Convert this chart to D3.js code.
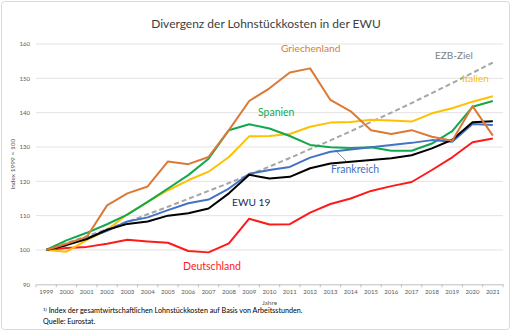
<!DOCTYPE html>
<html>
<head>
<meta charset="utf-8">
<script src="https://cdn.jsdelivr.net/npm/d3@7"></script>
<style>
html,body{margin:0;padding:0;background:#fff;}
svg{display:block;font-family:Lato, "Open Sans", sans-serif;}
</style>
</head>
<body>
<svg id="chart" width="512" height="332"></svg>
<script>
const years = ["1999","2000","2001","2002","2003","2004","2005","2006","2007","2008","2009","2010","2011","2012","2013","2014","2015","2016","2017","2018","2019","2020","2021"];
const yTicks = [90,100,110,120,130,140,150,160];

const ezbZiel      = [100,102,104,106.1,108.2,110.4,112.6,114.9,117.2,119.5,121.9,124.3,126.8,129.4,131.9,134.6,137.3,140,142.8,145.7,148.6,151.6,154.6];
const deutschland  = [100,100.6,100.9,101.8,103.0,102.5,102.1,99.7,99.3,101.9,109.1,107.4,107.5,110.9,113.4,115.0,117.2,118.6,119.8,123.3,127.0,131.4,132.5];
const italien      = [100,99.5,102.9,105.8,110.4,114.0,117.4,120.3,122.8,127.1,133.1,133.2,133.8,135.9,137.1,137.3,137.9,137.7,137.4,139.8,141.3,143.2,144.8];
const spanien      = [100,102.8,105.0,107.5,110.3,114.0,117.9,121.8,126.6,134.9,136.6,135.4,133.2,130.6,129.9,129.7,129.9,128.9,128.9,131.0,134.6,141.7,143.4];
const frankreich   = [100,101.6,103.4,105.6,108.3,109.5,111.6,113.6,114.7,117.9,122.2,123.3,124.2,126.9,128.6,129.3,129.9,130.6,131.2,132.0,131.5,136.7,136.4];
const ewu19        = [100,101.4,103.2,105.9,107.6,108.3,110.0,110.7,112.1,116.5,121.9,120.8,121.3,123.8,125.2,125.7,126.2,126.7,127.6,129.6,132.1,137.2,137.5];
const griechenland = [100,101.8,103.8,113.0,116.5,118.5,125.8,125.0,127.1,134.9,143.4,147.1,151.7,152.9,143.7,140.4,134.9,133.8,134.9,133.0,131.8,141.9,133.3];

const seriesNames  = ["EZB-Ziel","Deutschland","Italien","Spanien","Frankreich","EWU 19","Griechenland"];
const seriesValues = [ezbZiel, deutschland, italien, spanien, frankreich, ewu19, griechenland];
const seriesColors = ["#A6A6A6","#FF1A1A","#FFC000","#12A84E","#4472C4","#000000","#DB7A36"];

const svg = d3.select("#chart");

// outer border
svg.append("rect").attr("x",1.5).attr("y",1.5).attr("width",508).attr("height",328)
  .attr("rx",3).attr("fill","#fff").attr("stroke","#D9D9D9").attr("stroke-width",1);

const pLeft = 36, pRight = 503, pTop = 44, pBottom = 284.3;
const xBand = d3.scaleBand().domain(years).range([pLeft,pRight]).padding(0);
const x = d => xBand(d) + xBand.bandwidth()/2;
const y = d3.scaleLinear().domain([90,160]).range([pBottom,pTop]);

// title
svg.append("text").attr("x",266).attr("y",28).attr("text-anchor","middle")
  .attr("font-size",12).attr("fill","#404040").text("Divergenz der Lohnstückkosten in der EWU");

// gridlines
svg.append("g").selectAll("line").data(yTicks.filter(t=>t>90)).join("line")
  .attr("x1",pLeft).attr("x2",pRight).attr("y1",d=>y(d)).attr("y2",d=>y(d))
  .attr("stroke","#E3E3E3").attr("stroke-width",1);

// y axis labels
const yAxis = d3.axisLeft(y).tickValues(yTicks).tickSize(0).tickPadding(0);
const gy = svg.append("g").attr("transform",`translate(${pLeft-6},0)`).call(yAxis);
gy.select(".domain").remove();
gy.selectAll("text").attr("font-size",6).attr("fill","#595959").attr("font-family","Lato, sans-serif");

// y axis title
svg.append("text").attr("transform",`translate(15,${(pTop+pBottom)/2}) rotate(-90)`)
  .attr("text-anchor","middle").attr("font-size",6.5).attr("fill","#595959").text("Index 1999 = 100");

// x axis
const xAxis = d3.axisBottom(xBand).tickSize(0).tickPadding(0);
const gx = svg.append("g").attr("transform",`translate(0,${pBottom})`).call(xAxis);
gx.select(".domain").attr("stroke","#BFBFBF");
gx.selectAll("text").attr("font-size",6).attr("fill","#595959").attr("dy","1.7em").attr("font-family","Lato, sans-serif");
// boundary tick marks
const bounds = years.map(d=>xBand(d)).concat([pRight]);
svg.append("g").selectAll("line").data(bounds).join("line")
  .attr("x1",d=>d).attr("x2",d=>d).attr("y1",pBottom).attr("y2",pBottom+3)
  .attr("stroke","#BFBFBF").attr("stroke-width",1);

svg.append("text").attr("x",(pLeft+pRight)/2).attr("y",305).attr("text-anchor","middle")
  .attr("font-size",6.5).attr("fill","#595959").text("Jahre");

// lines
const line = d3.line().x((d,i)=>x(years[i])).y(d=>y(d));
seriesValues.forEach((vals,k)=>{
  svg.append("path").datum(vals).attr("d",line)
    .attr("fill","none").attr("stroke",seriesColors[k])
    .attr("stroke-width",2).attr("stroke-linejoin","round")
    .attr("stroke-dasharray", k===0 ? "5,3" : null);
});

// labels
const labels = [
  {t:"Griechenland", x:281, y:52, c:"#DB7A36", s:10.2, w:"normal"},
  {t:"EZB-Ziel", x:435, y:59, c:"#7F7F7F", s:10, w:"normal"},
  {t:"Italien", x:462, y:82, c:"#FFC000", s:10, w:"normal"},
  {t:"Spanien", x:258, y:116, c:"#12A84E", s:10.5, w:"normal"},
  {t:"Frankreich", x:331, y:173, c:"#4472C4", s:10.5, w:"normal"},
  {t:"EWU 19", x:232, y:206, c:"#1F2A55", s:10.2, w:"normal"},
  {t:"Deutschland", x:183, y:270, c:"#FF1A1A", s:10.5, w:"normal"}
];
svg.append("g").selectAll("text").data(labels).join("text")
  .attr("x",d=>d.x).attr("y",d=>d.y).attr("fill",d=>d.c).attr("font-size",d=>d.s)
  .attr("font-weight",d=>d.w).text(d=>d.t);

// leader line for Frankreich
svg.append("line").attr("x1",346).attr("y1",161).attr("x2",335).attr("y2",150)
  .attr("stroke","#4472C4").attr("stroke-width",0.75);

// footnotes
const fn = svg.append("text").attr("x",43).attr("y",313).attr("font-size",7.2).attr("fill","#000");
fn.append("tspan").attr("font-size",4.5).attr("dy",-2.5).text("1)");
fn.append("tspan").attr("dy",2.5).text(" Index der gesamtwirtschaftlichen Lohnstückkosten auf Basis von Arbeitsstunden.");
svg.append("text").attr("x",43).attr("y",324).attr("font-size",7.2).attr("fill","#000").text("Quelle: Eurostat.");
</script>
</body>
</html>
